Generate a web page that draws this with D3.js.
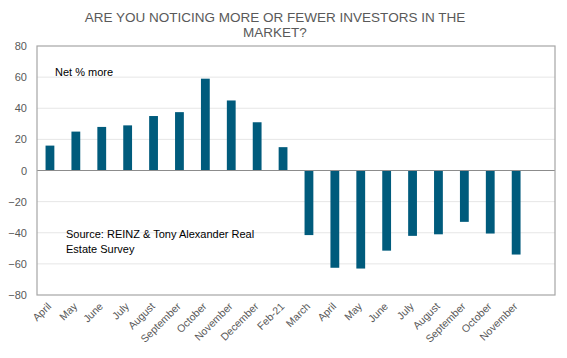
<!DOCTYPE html>
<html><head><meta charset="utf-8">
<script src="https://cdn.jsdelivr.net/npm/d3@7"></script>
<style>body{margin:0;background:#fff;}text{font-family:"Liberation Sans",Arial,sans-serif;}</style>
</head><body>
<svg id="c" width="567" height="358"></svg>
<script>
const categories = ["April","May","June","July","August","September","October","November","December","Feb-21","March","April ","May ","June ","July ","August ","September ","October ","November "];
const values = [16,25,28,29,35,37.5,59,45,31,15,-41.5,-62.5,-63,-51.5,-42,-41,-33,-40.5,-54];
const yTicks = [-80,-60,-40,-20,0,20,40,60,80];
const titleLines = ["ARE YOU NOTICING MORE OR FEWER INVESTORS IN THE","MARKET?"];
const noteText = "Net % more";
const sourceLines = ["Source: REINZ & Tony Alexander Real","Estate Survey"];

const svg = d3.select("#c");
const m = {l:37, r:555, t:46, b:295};
const grey = "#595959";

const x = d3.scaleBand().domain([...categories, "__blank"]).range([m.l, m.r]).paddingInner(0.66).paddingOuter(0.33);
const y = d3.scaleLinear().domain([-80,80]).range([m.b, m.t]);

// gridlines
svg.append("g").selectAll("line").data(yTicks.filter(d=>d!==0 && d!==80 && d!==-80)).join("line")
  .attr("x1",m.l).attr("x2",m.r).attr("y1",d=>y(d)).attr("y2",d=>y(d))
  .attr("stroke","#e6e6e6").attr("stroke-width",1);

// bars
svg.append("g").selectAll("rect").data(values).join("rect")
  .attr("x",(d,i)=>x(categories[i]))
  .attr("width",x.bandwidth())
  .attr("y",d=>y(Math.max(0,d)))
  .attr("height",d=>Math.abs(y(d)-y(0)))
  .attr("fill","#005b7c");

// zero line
svg.append("line").attr("x1",m.l).attr("x2",m.r).attr("y1",y(0)).attr("y2",y(0)).attr("stroke","#8c8c8c").attr("stroke-width",1);

// frame
svg.append("rect").attr("x",m.l).attr("y",m.t).attr("width",m.r-m.l).attr("height",m.b-m.t)
  .attr("fill","none").attr("stroke","#a6a6a6").attr("stroke-width",1.2);

// y axis
const ya = svg.append("g").attr("transform",`translate(${m.l},0)`)
  .call(d3.axisLeft(y).tickValues(yTicks).tickSize(0).tickPadding(10));
ya.select(".domain").remove();
ya.selectAll("text").attr("fill",grey).style("font-size","11px").style("font-family","Liberation Sans, Arial, sans-serif");

// x axis
const xa = svg.append("g").attr("transform",`translate(0,${m.b})`)
  .call(d3.axisBottom(x).tickValues(categories).tickSize(0).tickFormat(d=>d.trim()));
xa.select(".domain").remove();
xa.selectAll("text").attr("fill",grey).style("font-size","10.5px").style("font-family","Liberation Sans, Arial, sans-serif")
  .attr("text-anchor","end").attr("dy","0").attr("transform","translate(2,12) rotate(-45)")
  .attr("y",0).attr("x",0);

// title
svg.append("g").selectAll("text").data(titleLines).join("text")
  .attr("x",275).attr("y",(d,i)=>22+i*15).attr("text-anchor","middle")
  .attr("fill",grey).style("font-size","13.5px").text(d=>d);

svg.append("text").attr("x",55).attr("y",76).attr("fill","#000").style("font-size","11px").text(noteText);
svg.append("g").selectAll("text").data(sourceLines).join("text")
  .attr("x",66).attr("y",(d,i)=>238+i*15).attr("fill","#000").style("font-size","11px").text(d=>d);
</script>
</body></html>
